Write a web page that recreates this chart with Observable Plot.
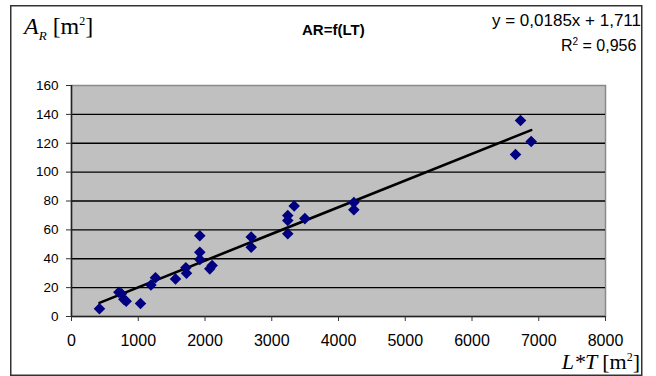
<!DOCTYPE html>
<html>
<head>
<meta charset="utf-8">
<script src="https://cdn.jsdelivr.net/npm/d3@7"></script>
<script src="https://cdn.jsdelivr.net/npm/@observablehq/plot@0.6"></script>
<style>
  html, body { margin: 0; padding: 0; background: #fff; }
  #wrap { position: relative; width: 656px; height: 376px; overflow: hidden; font-family: "Liberation Sans", Arial, sans-serif; }
  #wrap svg { position: absolute; left: 0; top: 0; }
  .lbl { position: absolute; white-space: nowrap; color: #000; z-index: 5; line-height: 1.1; }
  .serif { font-family: "Liberation Serif", "Times New Roman", serif; font-style: italic; font-size: 23px; }
  .up { font-style: normal; }
</style>
</head>
<body>
<div id="wrap"></div>
<script>
// Data
const lt = [419, 709, 749, 784, 819, 1034, 1190, 1258, 1558, 1713, 1723, 1922, 1922, 1922, 2072, 2107, 2692, 2692, 3240, 3240, 3240, 3336, 3496, 4230, 4230, 6652, 6727, 6887];
const ar = [5.3, 16.8, 15.7, 12, 10.6, 9, 21.8, 26.8, 26, 33.8, 30, 56, 44.5, 39.5, 33, 35.3, 55, 48, 70, 66.5, 57.3, 76.5, 67.8, 79, 74, 112.2, 135.7, 121.2];
const xTicks = [0, 1000, 2000, 3000, 4000, 5000, 6000, 7000, 8000];
const yTicks = [0, 20, 40, 60, 80, 100, 120, 140, 160];
const slope = 0.0185, intercept = 1.711, r2 = 0.956;
const title = "AR=f(LT)";

const points = lt.map((x, i) => ({x, y: ar[i]}));
const xMin = d3.min(lt), xMax = d3.max(lt);
const trend = [xMin, xMax].map(x => ({x, y: slope * x + intercept}));

const chart = Plot.plot({
  width: 656,
  height: 376,
  marginLeft: 71,
  marginRight: 51,
  marginTop: 85,
  marginBottom: 60,
  style: {fontFamily: "'Liberation Sans', Arial, sans-serif", background: "#fff", color: "#000"},
  x: {domain: [0, 8000]},
  y: {domain: [0, 160]},
  marks: [
    Plot.frame({fill: "#c0c0c0", stroke: "#8a8a8a", strokeWidth: 1.5}),
    Plot.ruleY(yTicks.filter(v => v > 0 && v < 160), {stroke: "#000", strokeWidth: 1.4}),
    Plot.ruleX([0], {stroke: "#222", strokeWidth: 1.5}),
    Plot.ruleY([0], {stroke: "#222", strokeWidth: 1.5}),
    Plot.axisX(xTicks, {tickSize: 5, tickPadding: 13, fontSize: 16, stroke: "#333", label: null, tickFormat: d => String(d)}),
    Plot.axisY(yTicks, {tickSize: 5, tickPadding: 8, fontSize: 13.5, stroke: "#333", label: null, tickFormat: d => String(d)}),
    Plot.line(trend, {x: "x", y: "y", stroke: "#000", strokeWidth: 2.6}),
    Plot.dot(points, {x: "x", y: "y", symbol: "diamond2", r: 5.2, fill: "#000080", stroke: "none"})
  ]
});
// outer chart border (decoration)
d3.select(chart).append("rect")
  .attr("x", 10.75).attr("y", 5.75).attr("width", 631).attr("height", 369.5)
  .attr("fill", "none").attr("stroke", "#333").attr("stroke-width", 1.5);

const wrap = document.getElementById("wrap");
wrap.appendChild(chart);

function addLabel(html, css, cls) {
  const d = document.createElement("div");
  d.className = "lbl" + (cls ? " " + cls : "");
  d.innerHTML = html;
  Object.assign(d.style, css);
  wrap.appendChild(d);
  return d;
}
const fmt = v => String(v).replace(".", ",");
addLabel("A<sub style='font-size:13px'>R</sub> <span class='up'>[m<sup style='font-size:12px'>2</sup>]</span>", {left: "24px", top: "13px", fontSize: "24px"}, "serif");
addLabel(title, {left: "302px", top: "22px", fontWeight: "bold", fontSize: "15px"});
addLabel("y = " + fmt(slope) + "x + " + fmt(intercept), {right: "15px", top: "12px", fontSize: "17px"});
addLabel("R<sup style='font-size:10px'>2</sup> = " + fmt(r2), {left: "561px", top: "36px", fontSize: "16px"});
addLabel("L*T <span class='up'>[m<sup style='font-size:12px'>2</sup>]</span>", {right: "16px", top: "350px", fontSize: "22px"}, "serif");
</script>
</body>
</html>
